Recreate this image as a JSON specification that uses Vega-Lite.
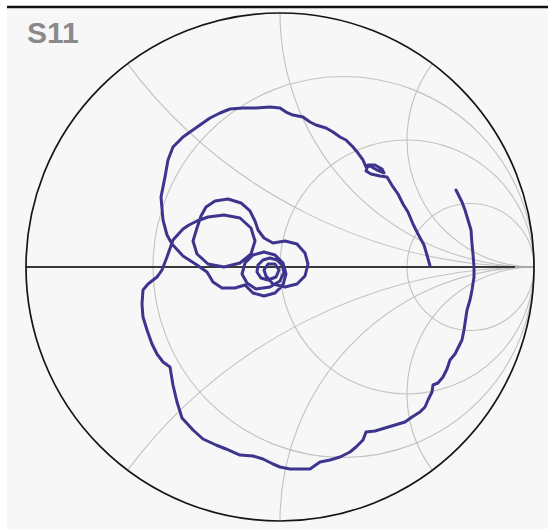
{
  "$schema": "https://vega.github.io/schema/vega-lite/v6.json",
  "width": 541,
  "height": 521,
  "autosize": "none",
  "padding": {"left": 7, "top": 8, "right": 0, "bottom": 0},
  "background": "white",
  "config": {"view": {"fill": "#f7f7f7", "stroke": null}},
  "layer": [
    {
      "data": {"values": [
        {"cx": 0.25, "cy": 0, "rr": 0.75, "t1": 0, "t2": 360},
        {"cx": 0.5, "cy": 0, "rr": 0.5, "t1": 0, "t2": 360},
        {"cx": 0.75, "cy": 0, "rr": 0.25, "t1": 0, "t2": 360},
        {"cx": 1, "cy": 2, "rr": 2, "t1": 180, "t2": 233.13},
        {"cx": 1, "cy": 1, "rr": 1, "t1": 180, "t2": 270},
        {"cx": 1, "cy": 0.5, "rr": 0.5, "t1": 180, "t2": 306.87},
        {"cx": 1, "cy": -2, "rr": 2, "t1": 306.87, "t2": 360},
        {"cx": 1, "cy": -1, "rr": 1, "t1": 270, "t2": 360},
        {"cx": 1, "cy": -0.5, "rr": 0.5, "t1": 233.13, "t2": 360}
      ]},
      "mark": {"type": "arc", "filled": false, "stroke": "#c2c2c2", "strokeWidth": 1.1},
      "encoding": {
        "x": {"field": "cx", "type": "quantitative", "axis": null, "scale": {"type": "linear", "domain": [-1.0748, 1.05512], "nice": false, "zero": false}},
        "y": {"field": "cy", "type": "quantitative", "axis": null, "scale": {"type": "linear", "domain": [-1.0315, 1.01969], "nice": false, "zero": false}},
        "theta": {"field": "t1", "type": "quantitative", "stack": null, "scale": {"type": "linear", "domain": [0, 360], "range": [0, 6.283185307179586], "nice": false, "zero": false}},
        "theta2": {"field": "t2"},
        "radius": {"field": "rr", "type": "quantitative", "scale": {"type": "linear", "domain": [0, 1], "range": [0, 254], "nice": false, "zero": true}},
        "radius2": {"field": "rr"}
      }
    },
    {
      "data": {"values": [
        {"x1": -1, "x2": 0.925, "y": 0, "part": "axis"}
      ]},
      "mark": {"type": "rule", "color": "#383838", "strokeWidth": 1.8},
      "encoding": {
        "x": {"field": "x1", "type": "quantitative", "axis": null, "scale": {"type": "linear", "domain": [-1.0748, 1.05512], "nice": false, "zero": false}},
        "x2": {"field": "x2"},
        "y": {"field": "y", "type": "quantitative", "axis": null, "scale": {"type": "linear", "domain": [-1.0315, 1.01969], "nice": false, "zero": false}}
      }
    },
    {
      "data": {"values": [
        {"x1": 0.925, "x2": 1, "y": 0, "part": "axis-end"}
      ]},
      "mark": {"type": "rule", "color": "#a8a8a8", "strokeWidth": 1.8},
      "encoding": {
        "x": {"field": "x1", "type": "quantitative", "axis": null, "scale": {"type": "linear", "domain": [-1.0748, 1.05512], "nice": false, "zero": false}},
        "x2": {"field": "x2"},
        "y": {"field": "y", "type": "quantitative", "axis": null, "scale": {"type": "linear", "domain": [-1.0315, 1.01969], "nice": false, "zero": false}}
      }
    },
    {
      "data": {"values": [
        {"cx": 0, "cy": 0, "rr": 1, "t1": 0, "t2": 360}
      ]},
      "mark": {"type": "arc", "filled": false, "stroke": "#151515", "strokeWidth": 1.7},
      "encoding": {
        "x": {"field": "cx", "type": "quantitative", "axis": null, "scale": {"type": "linear", "domain": [-1.0748, 1.05512], "nice": false, "zero": false}},
        "y": {"field": "cy", "type": "quantitative", "axis": null, "scale": {"type": "linear", "domain": [-1.0315, 1.01969], "nice": false, "zero": false}},
        "theta": {"field": "t1", "type": "quantitative", "stack": null, "scale": {"type": "linear", "domain": [0, 360], "range": [0, 6.283185307179586], "nice": false, "zero": false}},
        "theta2": {"field": "t2"},
        "radius": {"field": "rr", "type": "quantitative", "scale": {"type": "linear", "domain": [0, 1], "range": [0, 254], "nice": false, "zero": true}},
        "radius2": {"field": "rr"}
      }
    },
    {
      "data": {"values": [
        {"i": 1, "re": 0.5906, "im": 0.0039},
        {"i": 2, "re": 0.5787, "im": 0.0472},
        {"i": 3, "re": 0.5669, "im": 0.0866},
        {"i": 4, "re": 0.5433, "im": 0.1299},
        {"i": 5, "re": 0.5236, "im": 0.1693},
        {"i": 6, "re": 0.5039, "im": 0.2165},
        {"i": 7, "re": 0.4843, "im": 0.2480},
        {"i": 8, "re": 0.4646, "im": 0.2874},
        {"i": 9, "re": 0.4449, "im": 0.3150},
        {"i": 10, "re": 0.4213, "im": 0.3543},
        {"i": 11, "re": 0.3937, "im": 0.3583},
        {"i": 12, "re": 0.3583, "im": 0.3661},
        {"i": 13, "re": 0.3386, "im": 0.3780},
        {"i": 14, "re": 0.3465, "im": 0.4016},
        {"i": 15, "re": 0.3740, "im": 0.4016},
        {"i": 16, "re": 0.4016, "im": 0.3858},
        {"i": 17, "re": 0.4094, "im": 0.3701},
        {"i": 18, "re": 0.3819, "im": 0.3819},
        {"i": 19, "re": 0.3543, "im": 0.3976},
        {"i": 20, "re": 0.3386, "im": 0.3937},
        {"i": 21, "re": 0.3268, "im": 0.4213},
        {"i": 22, "re": 0.3071, "im": 0.4488},
        {"i": 23, "re": 0.2874, "im": 0.4724},
        {"i": 24, "re": 0.2598, "im": 0.5000},
        {"i": 25, "re": 0.2362, "im": 0.5118},
        {"i": 26, "re": 0.2087, "im": 0.5315},
        {"i": 27, "re": 0.1811, "im": 0.5472},
        {"i": 28, "re": 0.1417, "im": 0.5591},
        {"i": 29, "re": 0.1181, "im": 0.5709},
        {"i": 30, "re": 0.0906, "im": 0.5906},
        {"i": 31, "re": 0.0512, "im": 0.5984},
        {"i": 32, "re": 0.0236, "im": 0.6102},
        {"i": 33, "re": 0.0, "im": 0.6260},
        {"i": 34, "re": -0.0394, "im": 0.6299},
        {"i": 35, "re": -0.0945, "im": 0.6260},
        {"i": 36, "re": -0.1457, "im": 0.6260},
        {"i": 37, "re": -0.1969, "im": 0.6220},
        {"i": 38, "re": -0.2362, "im": 0.6063},
        {"i": 39, "re": -0.2756, "im": 0.5866},
        {"i": 40, "re": -0.3150, "im": 0.5591},
        {"i": 41, "re": -0.3543, "im": 0.5315},
        {"i": 42, "re": -0.3819, "im": 0.5118},
        {"i": 43, "re": -0.4213, "im": 0.4724},
        {"i": 44, "re": -0.4409, "im": 0.4213},
        {"i": 45, "re": -0.4528, "im": 0.3543},
        {"i": 46, "re": -0.4685, "im": 0.2756},
        {"i": 47, "re": -0.4606, "im": 0.1850},
        {"i": 48, "re": -0.4449, "im": 0.1260},
        {"i": 49, "re": -0.4252, "im": 0.0906},
        {"i": 50, "re": -0.3819, "im": 0.0433},
        {"i": 51, "re": -0.3268, "im": 0.0079},
        {"i": 52, "re": -0.2874, "im": -0.0197},
        {"i": 53, "re": -0.2638, "im": -0.0591},
        {"i": 54, "re": -0.2283, "im": -0.0827},
        {"i": 55, "re": -0.1772, "im": -0.0827},
        {"i": 56, "re": -0.1378, "im": -0.0709},
        {"i": 57, "re": -0.1063, "im": -0.1024},
        {"i": 58, "re": -0.0630, "im": -0.1142},
        {"i": 59, "re": -0.0197, "im": -0.1024},
        {"i": 60, "re": 0.0118, "im": -0.0709},
        {"i": 61, "re": 0.0236, "im": -0.0276},
        {"i": 62, "re": 0.0118, "im": 0.0157},
        {"i": 63, "re": -0.0197, "im": 0.0472},
        {"i": 64, "re": -0.0630, "im": 0.0591},
        {"i": 65, "re": -0.1063, "im": 0.0472},
        {"i": 66, "re": -0.1378, "im": 0.0157},
        {"i": 67, "re": -0.1496, "im": -0.0276},
        {"i": 68, "re": -0.1299, "im": -0.0630},
        {"i": 69, "re": -0.0945, "im": -0.0866},
        {"i": 70, "re": -0.0394, "im": -0.0787},
        {"i": 71, "re": 0.0, "im": -0.0551},
        {"i": 72, "re": 0.0157, "im": -0.0197},
        {"i": 73, "re": 0.0079, "im": 0.0079},
        {"i": 74, "re": -0.0118, "im": 0.0276},
        {"i": 75, "re": -0.0394, "im": 0.0354},
        {"i": 76, "re": -0.0669, "im": 0.0276},
        {"i": 77, "re": -0.0866, "im": 0.0079},
        {"i": 78, "re": -0.0906, "im": -0.0197},
        {"i": 79, "re": -0.0748, "im": -0.0433},
        {"i": 80, "re": -0.0472, "im": -0.0512},
        {"i": 81, "re": -0.0157, "im": -0.0394},
        {"i": 82, "re": -0.0039, "im": -0.0118},
        {"i": 83, "re": -0.0197, "im": 0.0118},
        {"i": 84, "re": -0.0472, "im": 0.0118},
        {"i": 85, "re": -0.0630, "im": -0.0118},
        {"i": 86, "re": -0.0551, "im": -0.0354},
        {"i": 87, "re": -0.0276, "im": -0.0669},
        {"i": 88, "re": 0.0197, "im": -0.0787},
        {"i": 89, "re": 0.0669, "im": -0.0669},
        {"i": 90, "re": 0.0984, "im": -0.0354},
        {"i": 91, "re": 0.1102, "im": 0.0118},
        {"i": 92, "re": 0.0984, "im": 0.0551},
        {"i": 93, "re": 0.0669, "im": 0.0906},
        {"i": 94, "re": 0.0197, "im": 0.1024},
        {"i": 95, "re": -0.0276, "im": 0.0945},
        {"i": 96, "re": -0.0630, "im": 0.1142},
        {"i": 97, "re": -0.0866, "im": 0.1457},
        {"i": 98, "re": -0.0984, "im": 0.1811},
        {"i": 99, "re": -0.1181, "im": 0.2205},
        {"i": 100, "re": -0.1535, "im": 0.2520},
        {"i": 101, "re": -0.2047, "im": 0.2677},
        {"i": 102, "re": -0.2559, "im": 0.2598},
        {"i": 103, "re": -0.2913, "im": 0.2362},
        {"i": 104, "re": -0.3110, "im": 0.2008},
        {"i": 105, "re": -0.3268, "im": 0.1535},
        {"i": 106, "re": -0.3425, "im": 0.1024},
        {"i": 107, "re": -0.3268, "im": 0.0512},
        {"i": 108, "re": -0.2835, "im": 0.0118},
        {"i": 109, "re": -0.2205, "im": 0.0},
        {"i": 110, "re": -0.1575, "im": 0.0157},
        {"i": 111, "re": -0.1142, "im": 0.0512},
        {"i": 112, "re": -0.0984, "im": 0.1024},
        {"i": 113, "re": -0.1142, "im": 0.1535},
        {"i": 114, "re": -0.1575, "im": 0.1929},
        {"i": 115, "re": -0.2205, "im": 0.2047},
        {"i": 116, "re": -0.2835, "im": 0.1969},
        {"i": 117, "re": -0.3268, "im": 0.1811},
        {"i": 118, "re": -0.3583, "im": 0.1654},
        {"i": 119, "re": -0.3819, "im": 0.1496},
        {"i": 120, "re": -0.4213, "im": 0.1063},
        {"i": 121, "re": -0.4449, "im": 0.0394},
        {"i": 122, "re": -0.4646, "im": -0.0118},
        {"i": 123, "re": -0.4843, "im": -0.0394},
        {"i": 124, "re": -0.5197, "im": -0.0669},
        {"i": 125, "re": -0.5394, "im": -0.0906},
        {"i": 126, "re": -0.5433, "im": -0.1457},
        {"i": 127, "re": -0.5394, "im": -0.1969},
        {"i": 128, "re": -0.5236, "im": -0.2480},
        {"i": 129, "re": -0.5039, "im": -0.3031},
        {"i": 130, "re": -0.4843, "im": -0.3425},
        {"i": 131, "re": -0.4606, "im": -0.3740},
        {"i": 132, "re": -0.4331, "im": -0.3937},
        {"i": 133, "re": -0.4213, "im": -0.4646},
        {"i": 134, "re": -0.4055, "im": -0.5315},
        {"i": 135, "re": -0.3858, "im": -0.5945},
        {"i": 136, "re": -0.3425, "im": -0.6417},
        {"i": 137, "re": -0.3031, "im": -0.6772},
        {"i": 138, "re": -0.2520, "im": -0.7008},
        {"i": 139, "re": -0.2126, "im": -0.7165},
        {"i": 140, "re": -0.1575, "im": -0.7402},
        {"i": 141, "re": -0.1063, "im": -0.7441},
        {"i": 142, "re": -0.0669, "im": -0.7559},
        {"i": 143, "re": -0.0276, "im": -0.7756},
        {"i": 144, "re": 0.0, "im": -0.7874},
        {"i": 145, "re": 0.0394, "im": -0.7953},
        {"i": 146, "re": 0.1181, "im": -0.7953},
        {"i": 147, "re": 0.1575, "im": -0.7677},
        {"i": 148, "re": 0.1969, "im": -0.7598},
        {"i": 149, "re": 0.2362, "im": -0.7480},
        {"i": 150, "re": 0.2756, "im": -0.7283},
        {"i": 151, "re": 0.2992, "im": -0.7087},
        {"i": 152, "re": 0.3268, "im": -0.6811},
        {"i": 153, "re": 0.3386, "im": -0.6496},
        {"i": 154, "re": 0.3740, "im": -0.6457},
        {"i": 155, "re": 0.4134, "im": -0.6339},
        {"i": 156, "re": 0.4528, "im": -0.6220},
        {"i": 157, "re": 0.4921, "im": -0.6102},
        {"i": 158, "re": 0.5197, "im": -0.5906},
        {"i": 159, "re": 0.5512, "im": -0.5709},
        {"i": 160, "re": 0.5709, "im": -0.5512},
        {"i": 161, "re": 0.5827, "im": -0.5236},
        {"i": 162, "re": 0.5984, "im": -0.4921},
        {"i": 163, "re": 0.6024, "im": -0.4646},
        {"i": 164, "re": 0.6220, "im": -0.4567},
        {"i": 165, "re": 0.6417, "im": -0.4331},
        {"i": 166, "re": 0.6575, "im": -0.4016},
        {"i": 167, "re": 0.6693, "im": -0.3661},
        {"i": 168, "re": 0.6890, "im": -0.3425},
        {"i": 169, "re": 0.7165, "im": -0.2874},
        {"i": 170, "re": 0.7244, "im": -0.2480},
        {"i": 171, "re": 0.7362, "im": -0.1693},
        {"i": 172, "re": 0.7480, "im": -0.1299},
        {"i": 173, "re": 0.7559, "im": -0.0906},
        {"i": 174, "re": 0.7638, "im": -0.0394},
        {"i": 175, "re": 0.7638, "im": 0.0},
        {"i": 176, "re": 0.7598, "im": 0.0512},
        {"i": 177, "re": 0.7559, "im": 0.0906},
        {"i": 178, "re": 0.7520, "im": 0.1457},
        {"i": 179, "re": 0.7402, "im": 0.1850},
        {"i": 180, "re": 0.7283, "im": 0.2244},
        {"i": 181, "re": 0.7165, "im": 0.2559},
        {"i": 182, "re": 0.7008, "im": 0.2874},
        {"i": 183, "re": 0.6929, "im": 0.3031}
      ]},
      "mark": {"type": "line", "color": "#3d358d", "strokeWidth": 3, "strokeJoin": "round", "strokeCap": "round"},
      "encoding": {
        "x": {"field": "re", "type": "quantitative", "axis": null, "scale": {"type": "linear", "domain": [-1.0748, 1.05512], "nice": false, "zero": false}},
        "y": {"field": "im", "type": "quantitative", "axis": null, "scale": {"type": "linear", "domain": [-1.0315, 1.01969], "nice": false, "zero": false}},
        "order": {"field": "i", "type": "quantitative"}
      }
    },
    {
      "data": {"values": [
        {"tx": -0.996, "ty": 0.8819, "label": "S11"}
      ]},
      "mark": {"type": "text", "align": "left", "baseline": "alphabetic", "font": "Liberation Sans", "fontWeight": "bold", "fontSize": 30, "color": "#8a8a8a"},
      "encoding": {
        "x": {"field": "tx", "type": "quantitative", "axis": null, "scale": {"type": "linear", "domain": [-1.0748, 1.05512], "nice": false, "zero": false}},
        "y": {"field": "ty", "type": "quantitative", "axis": null, "scale": {"type": "linear", "domain": [-1.0315, 1.01969], "nice": false, "zero": false}},
        "text": {"field": "label"}
      }
    },
    {
      "data": {"values": [
        {"x1": -1.0748, "x2": 1.05512, "y": 1.0236, "part": "border"}
      ]},
      "mark": {"type": "rule", "color": "#111111", "strokeWidth": 2.5},
      "encoding": {
        "x": {"field": "x1", "type": "quantitative", "axis": null, "scale": {"type": "linear", "domain": [-1.0748, 1.05512], "nice": false, "zero": false}},
        "x2": {"field": "x2"},
        "y": {"field": "y", "type": "quantitative", "axis": null, "scale": {"type": "linear", "domain": [-1.0315, 1.01969], "nice": false, "zero": false}}
      }
    }
  ]
}
